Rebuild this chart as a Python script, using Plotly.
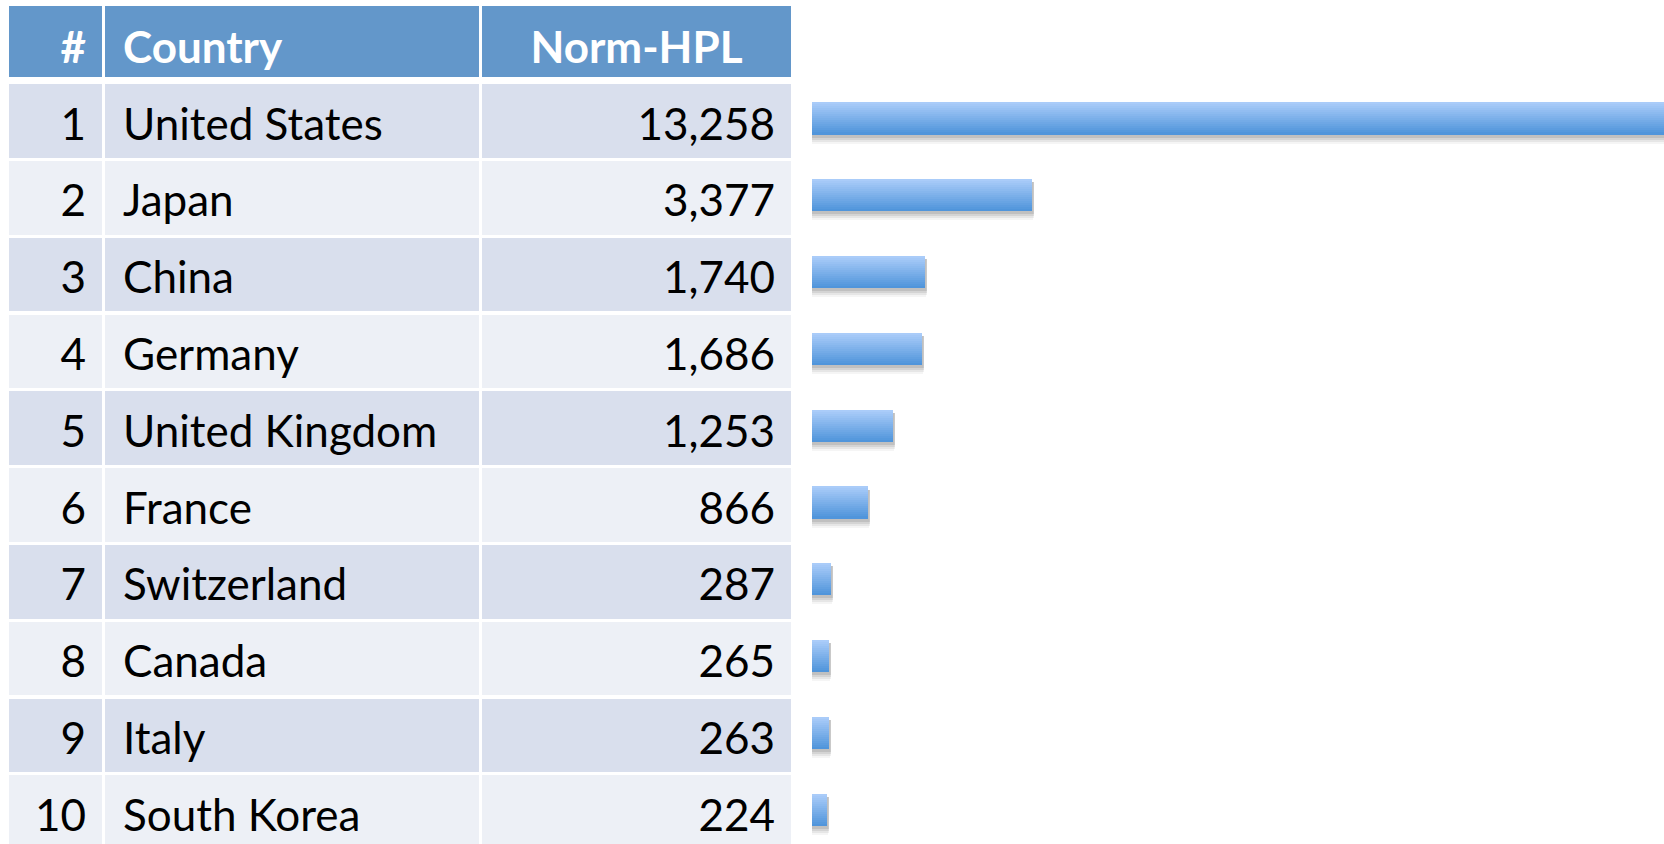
import plotly.graph_objects as go

# Top 10 countries by normalised HPL
ranks = [1, 2, 3, 4, 5, 6, 7, 8, 9, 10]
countries = ["United States", "Japan", "China", "Germany", "United Kingdom",
             "France", "Switzerland", "Canada", "Italy", "South Korea"]
norm_hpl = [13258, 3377, 1740, 1686, 1253, 866, 287, 265, 263, 224]
headers = ["#", "Country", "Norm-HPL"]

W, H = 1664, 844
PITCH = 76.8            # px per table row
ROW1_PX = 121.0         # centre of first row, px from top
px = 1.0 / PITCH        # one pixel in row units

y_top = 1 - ROW1_PX * px
y_bot = 1 + (H - ROW1_PX) * px

HEADER_Y = 1 - (ROW1_PX - 41.5) * px
HEADER_H = 71 * px
ROW_H = 73.5 * px

cols = [(9, 102), (104.5, 479.3), (482, 791)]
HEADER_BLUE = "#6397ca"
ROW_ODD = "#d9dfed"
ROW_EVEN = "#edf0f6"

BAR_X0 = 812
PX_PER_UNIT = 0.065
x2_max = (W - BAR_X0) / PX_PER_UNIT

FONT = "Lato"
FS = 44

fig = go.Figure()

# table cell backgrounds
row_colors = [ROW_ODD if r % 2 else ROW_EVEN for r in ranks]
for (c0, c1) in cols:
    fig.add_trace(go.Bar(
        orientation="h", y=ranks, x=[c1 - c0] * len(ranks), base=c0,
        width=ROW_H, marker=dict(color=row_colors, line=dict(width=0)),
        xaxis="x", yaxis="y", hoverinfo="skip", showlegend=False))
    fig.add_trace(go.Bar(
        orientation="h", y=[HEADER_Y], x=[c1 - c0], base=c0,
        width=HEADER_H, marker=dict(color=HEADER_BLUE, line=dict(width=0)),
        xaxis="x", yaxis="y", hoverinfo="skip", showlegend=False))

# header text
hdr_dy = 10 * px
fig.add_trace(go.Scatter(
    x=[86, 123, (cols[2][0] + cols[2][1]) / 2],
    y=[HEADER_Y + hdr_dy] * 3, mode="text", text=["<b>%s</b>" % h for h in headers],
    textposition=["middle left", "middle right", "middle center"],
    textfont=dict(family=FONT, size=FS, color="white"),
    xaxis="x", yaxis="y", hoverinfo="skip", showlegend=False))

# body text
txt_dy = 7.5 * px
ty = [r + txt_dy for r in ranks]
fig.add_trace(go.Scatter(
    x=[86] * len(ranks), y=ty, mode="text", text=[str(r) for r in ranks],
    textposition="middle left", textfont=dict(family=FONT, size=FS, color="black"),
    xaxis="x", yaxis="y", hoverinfo="skip", showlegend=False))
fig.add_trace(go.Scatter(
    x=[123] * len(ranks), y=ty, mode="text", text=countries,
    textposition="middle right", textfont=dict(family=FONT, size=FS, color="black"),
    xaxis="x", yaxis="y", hoverinfo="skip", showlegend=False))
fig.add_trace(go.Scatter(
    x=[775] * len(ranks), y=ty, mode="text", text=["{:,}".format(v) for v in norm_hpl],
    textposition="middle left", textfont=dict(family=FONT, size=FS, color="black"),
    xaxis="x", yaxis="y", hoverinfo="skip", showlegend=False))

# bars: soft drop shadow, then a vertical gradient built from thin slices
BAR_H = 32 * px
BAR_OFF = -2.5 * px
bar_c = [r + BAR_OFF for r in ranks]
u = 1 / PX_PER_UNIT  # one pixel in value units

for dx, dy, grow, alpha in [(1, 6, 6, 0.04), (2, 5, 4, 0.06), (2, 4, 2, 0.08), (2, 3, 0, 0.09)]:
    fig.add_trace(go.Bar(
        orientation="h", y=[c + dy * px for c in bar_c],
        x=[v + (dx + grow / 2) * u for v in norm_hpl], base=-grow / 2 * u,
        width=BAR_H + grow * px,
        marker=dict(color="rgba(0,0,0,%.3f)" % alpha, line=dict(width=0)),
        xaxis="x2", yaxis="y", hoverinfo="skip", showlegend=False))

top_rgb = (170, 204, 249)
bot_rgb = (80, 149, 219)
N = 16
for k in range(N):
    t = k / (N - 1)
    rgb = tuple(round(a + (b - a) * t) for a, b in zip(top_rgb, bot_rgb))
    off = -BAR_H / 2 + (k + 0.5) * BAR_H / N
    fig.add_trace(go.Bar(
        orientation="h", y=[c + off for c in bar_c], x=norm_hpl, base=0,
        width=BAR_H / N * 1.15,
        marker=dict(color="rgb(%d,%d,%d)" % rgb, line=dict(width=0)),
        xaxis="x2", yaxis="y", hoverinfo="skip", showlegend=False))

fig.update_layout(
    width=W, height=H, margin=dict(l=0, r=0, t=0, b=0),
    paper_bgcolor="white", plot_bgcolor="rgba(0,0,0,0)",
    barmode="overlay", bargap=0,
    xaxis=dict(domain=[0, 1], range=[0, W], visible=False, fixedrange=True),
    xaxis2=dict(domain=[BAR_X0 / W, 1], range=[0, x2_max], visible=False,
                fixedrange=True, anchor="y"),
    yaxis=dict(range=[y_bot, y_top], visible=False, fixedrange=True),
)

fig.write_html("out.html", config={"displayModeBar": False})
